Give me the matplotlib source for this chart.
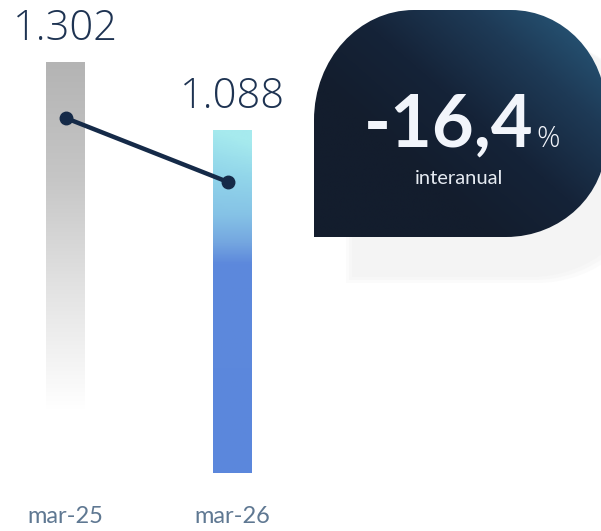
import numpy as np
import matplotlib
matplotlib.use("Agg")
import matplotlib.pyplot as plt
from matplotlib.path import Path
from matplotlib.patches import PathPatch
from matplotlib.colors import LinearSegmentedColormap

# ---- data ----
categories = ["mar-25", "mar-26"]
values = [1302, 1088]
value_labels = ["1.302", "1.088"]
line_values = [1126, 923]
change_text = "-16,4"
change_unit = "%"
change_caption = "interanual"

W, H = 601, 531
fig = plt.figure(figsize=(W / 100, H / 100), dpi=100)
fig.patch.set_facecolor("white")

# main chart axes (0 at 473px from top)
ax = fig.add_axes([0, 58 / H, 1, 473 / H])
ax.set_xlim(-0.3934, 3.216)
ax.set_ylim(0, 1500)
ax.axis("off")

x = np.arange(len(categories))
bars = ax.bar(x, values, width=0.234, color="none", edgecolor="none")

# gradients
gray_cmap = LinearSegmentedColormap.from_list("g", ["#b4b4b4", "#c6c6c6", "#e4e4e4", "#ffffff"])
blue_cmap = LinearSegmentedColormap.from_list(
    "b", [(0.0, "#a6eaee"), (0.12, "#92d6ea"), (0.25, "#85c2e6"), (0.33, "#74a6e0"),
          (0.39, "#5d89dc"), (1.0, "#5b87dc")])

for i, b in enumerate(bars):
    x0, w, h = b.get_x(), b.get_width(), b.get_height()
    grad = np.linspace(0, 1, 256).reshape(-1, 1)
    if i == 0:
        im = ax.imshow(grad, cmap=gray_cmap, aspect="auto",
                       extent=[x0, x0 + w, 200, h], origin="upper", zorder=1)
    else:
        g2 = np.tile(grad, (1, 8))
        g2 = g2 - np.linspace(0, 0.04, 8)[None, :] * np.clip(1 - grad * 4, 0, 1)
        g2 = np.clip(g2, 0, 1)
        im = ax.imshow(g2, cmap=blue_cmap, aspect="auto",
                       extent=[x0, x0 + w, 0, h], origin="upper", zorder=1)
    im.set_clip_path(b)

# line
ax.plot([x[0], x[1] - 0.025], line_values, color="#152a48", lw=3.2,
        marker="o", ms=9, solid_capstyle="round", zorder=3)

# value labels
for i, (v, lab) in enumerate(zip(values, value_labels)):
    ax.text(x[i], v + 70, lab, ha="center", va="baseline", fontsize=30,
            family="Open Sans", fontweight="light", color="#1e3352")

# category labels
for i, c in enumerate(categories):
    ax.text(x[i], -138, c, ha="center", va="center", fontsize=17,
            family="Lato", color="#5f7892")

# ---- callout (pixel coordinates) ----
ov = fig.add_axes([0, 0, 1, 1], zorder=0)
ov.set_xlim(0, W)
ov.set_ylim(H, 0)
ov.axis("off")
ov.patch.set_alpha(0)


def blob(x0, y0, x1, y1, rtl, rtr, rbr):
    k = 0.5523
    verts = [
        (x0, y1), (x0, y0 + rtl[1]),
        (x0, y0 + rtl[1] * (1 - k)), (x0 + rtl[0] * (1 - k), y0), (x0 + rtl[0], y0),
        (x1 - rtr[0], y0),
        (x1 - rtr[0] * (1 - k), y0), (x1, y0 + rtr[1] * (1 - k)), (x1, y0 + rtr[1]),
        (x1, y1 - rbr[1]),
        (x1, y1 - rbr[1] * (1 - k)), (x1 - rbr[0] * (1 - k), y1), (x1 - rbr[0], y1),
        (x0, y1), (x0, y1),
    ]
    codes = [Path.MOVETO, Path.LINETO,
             Path.CURVE4, Path.CURVE4, Path.CURVE4,
             Path.LINETO,
             Path.CURVE4, Path.CURVE4, Path.CURVE4,
             Path.LINETO,
             Path.CURVE4, Path.CURVE4, Path.CURVE4,
             Path.LINETO, Path.CLOSEPOLY]
    return Path(verts, codes)


# shadow (soft)
for a, d in [(0.35, 6), (0.5, 3), (1.0, 0)]:
    sp = blob(352 - d, 40 + d * 0.3, 640 + d, 277 + d, (100, 110), (100, 100), (110, 95))
    ov.add_patch(PathPatch(sp, facecolor="#f4f4f4", edgecolor="none", alpha=a, zorder=1))

cp = blob(314, 10, 606, 237, (100, 110), (95, 100), (100, 95))
patch = PathPatch(cp, facecolor="none", edgecolor="none", zorder=2)
ov.add_patch(patch)
yy, xx = np.mgrid[0:1:200j, 0:1:200j]
t = np.clip((xx * 0.9 + (1 - yy) * 0.8 - 0.55) / 1.1, 0, 1)
call_cmap = LinearSegmentedColormap.from_list("c", ["#131d2d", "#152338", "#1e3a56", "#285a7c"])
cim = ov.imshow(t, cmap=call_cmap, extent=[314, 606, 237, 10], origin="upper",
                aspect="auto", zorder=2, vmin=0, vmax=1)
cim.set_clip_path(patch)

ov.text(534, 147, change_text, ha="right", va="baseline", fontsize=52,
        family="Lato", fontweight="bold", color="#f2f5fb", zorder=3)
ov.text(536, 147, change_unit, ha="left", va="baseline", fontsize=21,
        family="Open Sans", fontweight="light", color="#f2f5fb", zorder=3)
ov.text(459, 179, change_caption, ha="center", va="center", fontsize=14.5,
        family="Lato", color="#e6ebf2", zorder=3)

fig.savefig("out.png", dpi=100, facecolor="white")
